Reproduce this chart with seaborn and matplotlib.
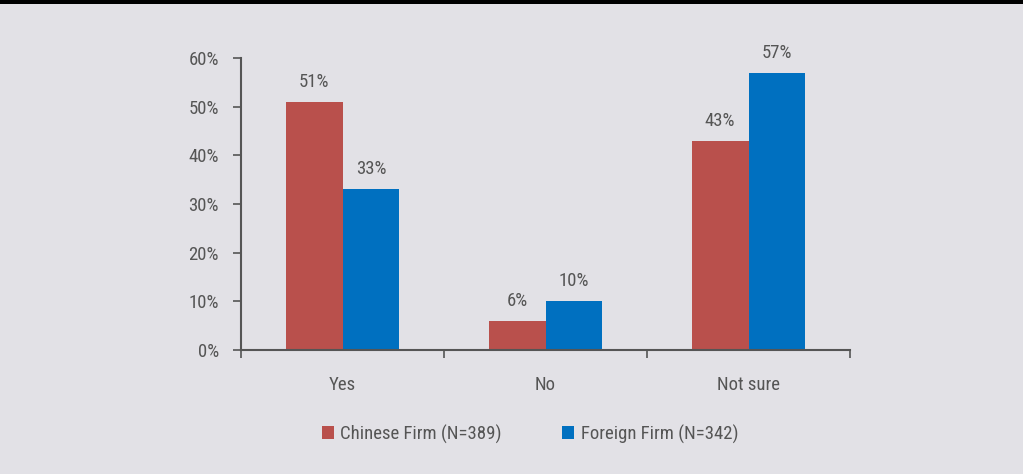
import matplotlib
matplotlib.use("Agg")
import matplotlib.pyplot as plt
import seaborn as sns
import pandas as pd
from matplotlib.ticker import FixedLocator, FuncFormatter
from matplotlib.patches import Rectangle
from matplotlib import font_manager

categories = ["Yes", "No", "Not sure"]
series_names = ["Chinese Firm (N=389)", "Foreign Firm (N=342)"]
chinese_values = [51, 6, 43]
foreign_values = [33, 10, 57]
y_ticks = [0, 10, 20, 30, 40, 50, 60]

df = pd.DataFrame({
    "category": categories * 2,
    "series": [series_names[0]] * 3 + [series_names[1]] * 3,
    "value": chinese_values + foreign_values,
})

names = {f.name for f in font_manager.fontManager.ttflist}
fam = "DejaVu Sans"
for cand in ["Roboto Condensed", "Liberation Sans Narrow", "Roboto"]:
    if cand in names:
        fam = cand
        break

sns.set_style("white")
plt.rcParams["font.family"] = [fam, "DejaVu Sans"]
bg = "#E2E1E6"
txt = "#555555"
fs = 13.5

fig = plt.figure(figsize=(10.23, 4.74), dpi=100, facecolor=bg)
ax = fig.add_axes([0.2356, 0.2616, 0.5953, 0.616])
ax.set_facecolor(bg)

sns.barplot(data=df, x="category", y="value", hue="series",
            palette=["#B9504C", "#0070C0"], width=0.56, gap=0,
            saturation=1, ax=ax, legend=True, linewidth=0, edgecolor="none")

for cont in ax.containers:
    ax.bar_label(cont, labels=[f"{int(v)}%" for v in cont.datavalues],
                 padding=8, fontsize=fs, color=txt)

ax.set_ylim(0, 60)
ax.set_xlim(-0.5, 2.5)
ax.yaxis.set_major_locator(FixedLocator(y_ticks))
ax.yaxis.set_major_formatter(FuncFormatter(lambda v, p: f"{int(v)}%"))
ax.set_xlabel("")
ax.set_ylabel("")
for s in ["top", "right"]:
    ax.spines[s].set_visible(False)
for s in ["left", "bottom"]:
    ax.spines[s].set_color("#555555")
    ax.spines[s].set_linewidth(1.5)

ax.tick_params(axis="y", which="major", direction="out", length=6, width=1.2,
               color="#555555", labelsize=fs, labelcolor=txt, left=True, pad=10)
ax.tick_params(axis="x", which="major", length=0, labelsize=fs, labelcolor=txt, pad=19)
ax.xaxis.set_minor_locator(FixedLocator([-0.5, 0.5, 1.5, 2.5]))
ax.tick_params(axis="x", which="minor", direction="out", length=6, width=1.2,
               color="#555555", bottom=True)

leg = ax.legend(loc="center", bbox_to_anchor=(0.518, 0.0844),
                bbox_transform=fig.transFigure, ncol=2, frameon=False,
                fontsize=fs, handlelength=0.65, handleheight=0.65,
                columnspacing=3.2, handletextpad=0.35)
for t in leg.get_texts():
    t.set_color(txt)

fig.patches.append(Rectangle((0, 1 - 4 / 474), 1, 4 / 474, transform=fig.transFigure,
                             facecolor="black", edgecolor="none"))

fig.savefig("out.png", dpi=100, facecolor=bg)
